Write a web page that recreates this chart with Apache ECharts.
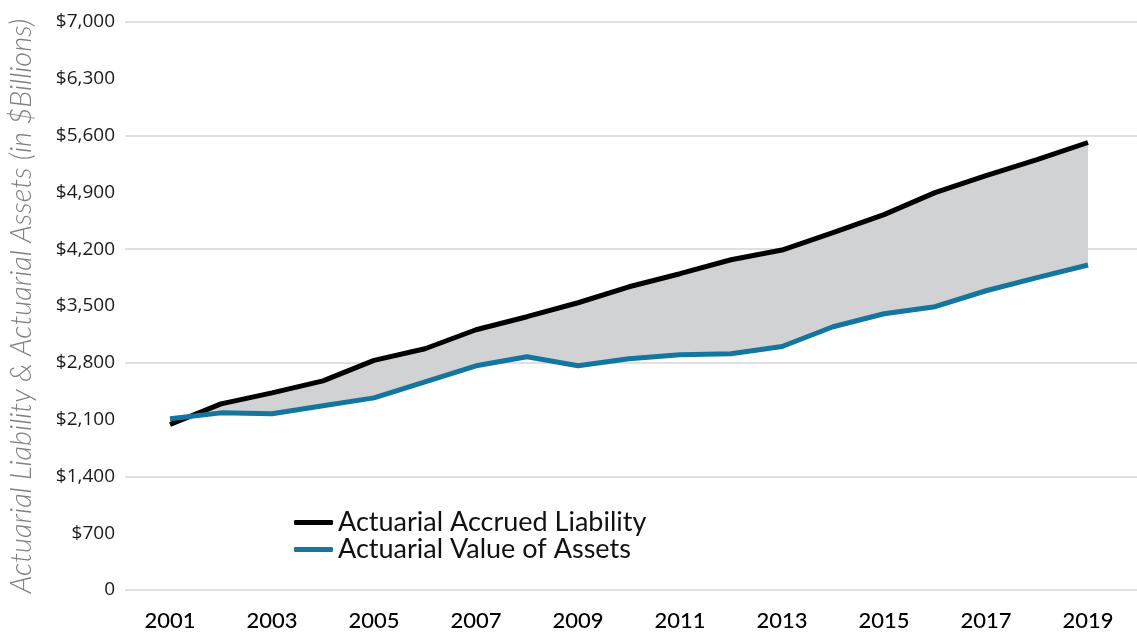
<!DOCTYPE html>
<html>
<head>
<meta charset="utf-8">
<script src="https://cdn.jsdelivr.net/npm/echarts@6/dist/echarts.min.js"></script>
<style>
  html, body { margin: 0; padding: 0; background: #fff; }
  #chart { width: 1137px; height: 637px; }
</style>
</head>
<body>
<div id="chart"></div>
<script>
// 年份与数据（单位：十亿美元）
const years = ['2001', '2002', '2003', '2004', '2005', '2006', '2007', '2008', '2009', '2010',
  '2011', '2012', '2013', '2014', '2015', '2016', '2017', '2018', '2019'];
const liability = [2040, 2294, 2430, 2578, 2830, 2973, 3207, 3368, 3540, 3737,
  3898, 4070, 4190, 4403, 4626, 4897, 5107, 5304, 5515];
const assets = [2110, 2183, 2171, 2270, 2368, 2566, 2763, 2874, 2763, 2849,
  2899, 2911, 3001, 3244, 3404, 3491, 3688, 3849, 4005];

const legendNames = ['Actuarial Accrued Liability', 'Actuarial Value of Assets'];

let myChart = echarts.init(document.getElementById('chart'));

// 差值叠加在资产之上，形成灰色带
let gap = liability.map((v, i) => v - assets[i]);

let option = {
  animation: false,
  grid: [
    // 只用来画整宽的网格线
    { left: 125, right: 0, top: 22, bottom: 47, outerBoundsMode: 'none' },
    // 数据区
    { left: 170, right: 49, top: 22, bottom: 47, outerBoundsMode: 'none' }
  ],
  legend: {
    data: legendNames,
    orient: 'vertical',
    left: 289,
    top: 504,
    icon: 'roundRect',
    itemWidth: 39,
    itemHeight: 5,
    itemGap: 0,
    textStyle: {
      fontFamily: 'Lato',
      fontSize: 27,
      color: '#111'
    }
  },
  xAxis: [
    {
      gridIndex: 0,
      type: 'value',
      show: false
    },
    {
      gridIndex: 1,
      type: 'category',
      data: years,
      boundaryGap: false,
      axisLine: { show: false },
      axisTick: { show: false },
      splitLine: { show: false },
      axisLabel: {
        interval: 1,
        margin: 20,
        fontFamily: 'Lato',
        fontWeight: 500,
        fontSize: 22,
        color: '#000'
      }
    }
  ],
  yAxis: [
    {
      gridIndex: 0,
      type: 'value',
      min: 0,
      max: 7000,
      interval: 1400,
      axisLine: { show: false },
      axisTick: { show: false },
      axisLabel: { show: false },
      splitLine: {
        show: true,
        lineStyle: { color: '#e0e0e0', width: 2 }
      }
    },
    {
      gridIndex: 1,
      type: 'value',
      min: 0,
      max: 7000,
      interval: 700,
      name: 'Actuarial Liability & Actuarial Assets (in $Billions)',
      nameLocation: 'middle',
      nameGap: 134,
      nameTextStyle: {
        fontFamily: 'Lato',
        fontStyle: 'italic',
        fontWeight: 300,
        fontSize: 29,
        color: '#7f7f7f'
      },
      axisLine: { show: false },
      axisTick: { show: false },
      splitLine: { show: false },
      axisLabel: {
        margin: 55,
        fontFamily: 'Open Sans',
        fontSize: 19,
        color: '#1a1a1a',
        formatter: v => v === 0 ? '0' : '$' + v.toLocaleString('en-US')
      }
    }
  ],
  series: [
    {
      name: legendNames[1],
      type: 'line',
      xAxisIndex: 1,
      yAxisIndex: 1,
      stack: 'band',
      stackStrategy: 'all',
      data: assets,
      showSymbol: false,
      z: 4,
      itemStyle: { color: '#1276a1' },
      lineStyle: { color: '#1276a1', width: 5 }
    },
    {
      name: legendNames[0],
      type: 'line',
      xAxisIndex: 1,
      yAxisIndex: 1,
      stack: 'band',
      stackStrategy: 'all',
      data: gap,
      showSymbol: false,
      z: 3,
      itemStyle: { color: '#000' },
      lineStyle: { color: '#000', width: 5 },
      areaStyle: { color: '#d1d2d4', opacity: 1 }
    }
  ]
};
myChart.setOption(option);
</script>
</body>
</html>
